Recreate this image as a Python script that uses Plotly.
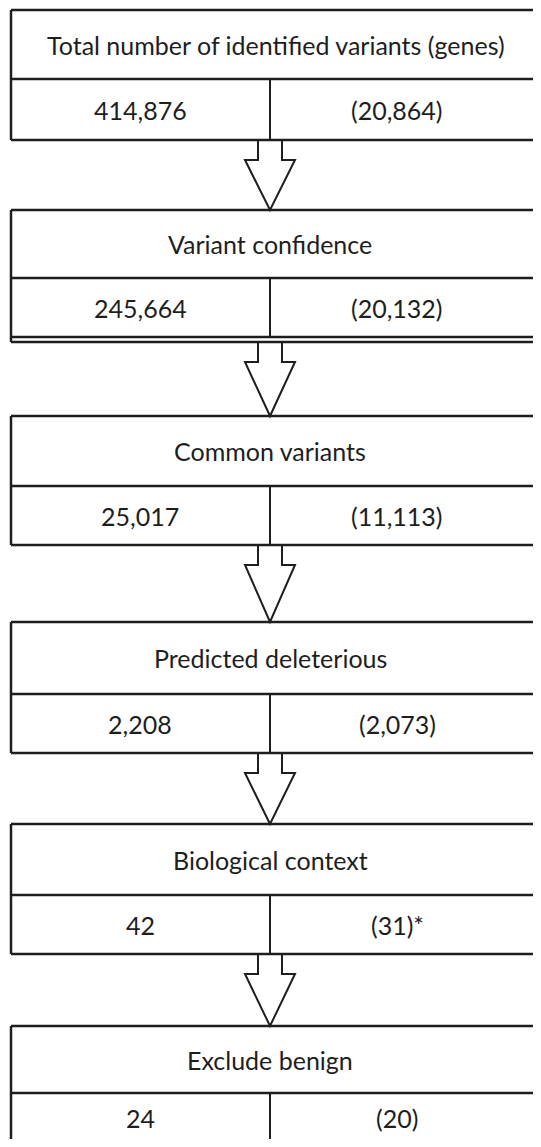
import plotly.graph_objects as go

# ---- data ----
stages = [
    "Total number of identified variants (genes)",
    "Variant confidence",
    "Common variants",
    "Predicted deleterious",
    "Biological context",
    "Exclude benign",
]
variant_counts = ["414,876", "245,664", "25,017", "2,208", "42", "24"]
gene_counts = ["(20,864)", "(20,132)", "(11,113)", "(2,073)", "(31)*", "(20)"]

# ---- layout geometry (reference pixels, y downward) ----
W, H = 541, 1147
OFF = 8  # default page body margin
box_top = [10, 210, 416, 622, 824, 1026]
box_mid = [79, 278, 486, 694, 895, 1093]
box_bot = [140, 337, 545, 753, 954, 1200]
extra_bottom = {1: 342}
XL, XR, XM = 11, 600, 270
LEFT_CX, RIGHT_CX = 140, 397
LINE = "#1e1e1e"
FONT = dict(family="Lato, Carlito, Calibri, sans-serif", size=25, color="#1e1e1e")


def hline(y, w=2.5):
    return dict(type="line", x0=XL, x1=XR, y0=y, y1=y, line=dict(color=LINE, width=w))


def vline(x, y0, y1, w=2.5):
    return dict(type="line", x0=x, x1=x, y0=y0, y1=y1, line=dict(color=LINE, width=w))


fig = go.Figure()
shapes = []
annotations = []
n = len(stages)
for i in range(n):
    t, m, b = box_top[i], box_mid[i], box_bot[i]
    bb = extra_bottom.get(i, b)
    shapes += [hline(t), hline(m), hline(b), vline(XL, t, bb), vline(XM, m, b, 2)]
    if i in extra_bottom:
        shapes.append(hline(bb))
    val_y = (m + b) / 2 if i < n - 1 else 1118
    title_x = XM if i > 0 else 276
    annotations.append(dict(x=title_x, y=(t + m) / 2, text=stages[i], showarrow=False,
                            xanchor="center", yanchor="middle", font=FONT))
    annotations.append(dict(x=LEFT_CX, y=val_y, text=variant_counts[i], showarrow=False,
                            xanchor="center", yanchor="middle", font=FONT))
    annotations.append(dict(x=RIGHT_CX, y=val_y, text=gene_counts[i], showarrow=False,
                            xanchor="center", yanchor="middle", font=FONT))
    if i < n - 1:
        y0 = bb
        y1 = y0 + 20
        tip = box_top[i + 1]
        path = (f"M 258 {y0} L 258 {y1} L 245 {y1} L {XM} {tip} "
                f"L 295 {y1} L 282 {y1} L 282 {y0}")
        shapes.append(dict(type="path", path=path, line=dict(color=LINE, width=2)))

fig.update_layout(
    width=W - 2 * OFF, height=H - 2 * OFF,
    margin=dict(l=0, r=0, t=0, b=0),
    paper_bgcolor="white", plot_bgcolor="white",
    shapes=shapes, annotations=annotations,
    xaxis=dict(range=[OFF, W - OFF], visible=False, fixedrange=True),
    yaxis=dict(range=[H - OFF, OFF], visible=False, fixedrange=True),
    showlegend=False,
)
fig.write_html("out.html")
